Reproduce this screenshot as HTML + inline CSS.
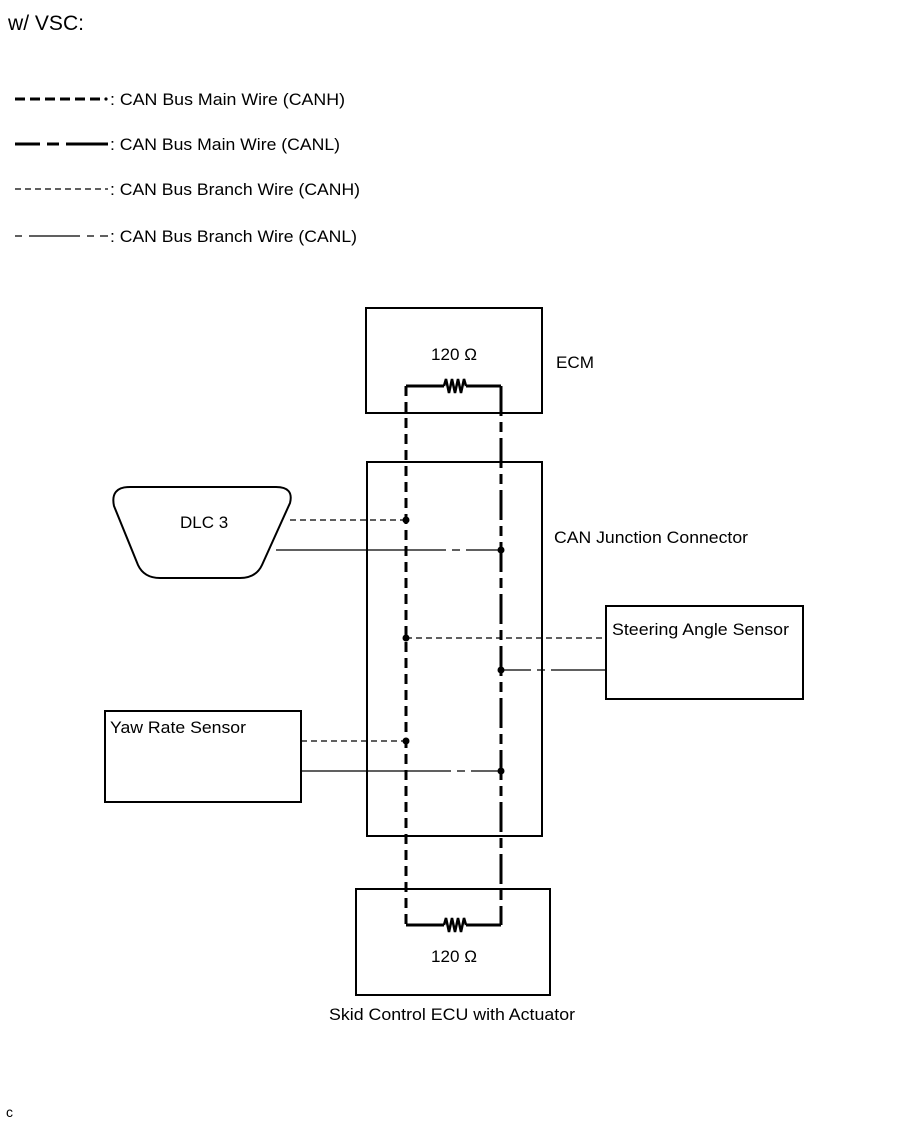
<!DOCTYPE html>
<html><head><style>
html,body{margin:0;padding:0;background:#fff;}
svg{display:block;}
text{font-family:"Liberation Sans",Arial,sans-serif;fill:#000;}
</style></head><body>
<svg width="906" height="1122" viewBox="0 0 906 1122" xmlns="http://www.w3.org/2000/svg">
<text x="8" y="30" font-size="21" textLength="76" lengthAdjust="spacingAndGlyphs">w/ VSC:</text>
<line x1="15" y1="99" x2="102" y2="99" stroke="#000" stroke-width="3" stroke-dasharray="10,5"/>
<circle cx="106" cy="99" r="1.6"/>
<text x="110" y="105" font-size="17" textLength="235" lengthAdjust="spacingAndGlyphs">: CAN Bus Main Wire (CANH)</text>
<path d="M15 144 H40 M47 144 H59 M66 144 H108" stroke="#000" stroke-width="3"/>
<text x="110" y="150" font-size="17" textLength="230" lengthAdjust="spacingAndGlyphs">: CAN Bus Main Wire (CANL)</text>
<line x1="15" y1="189" x2="108" y2="189" stroke="#000" stroke-width="1.3" stroke-dasharray="6,4"/>
<text x="110" y="195" font-size="17" textLength="250" lengthAdjust="spacingAndGlyphs">: CAN Bus Branch Wire (CANH)</text>
<path d="M15 236 H22 M29 236 H80 M87 236 H94 M100 236 H108" stroke="#000" stroke-width="1.3"/>
<text x="110" y="242" font-size="17" textLength="247" lengthAdjust="spacingAndGlyphs">: CAN Bus Branch Wire (CANL)</text>

<g fill="none" stroke="#000" stroke-width="2">
<rect x="366" y="308" width="176" height="105"/>
<rect x="367" y="462" width="175" height="374"/>
<rect x="356" y="889" width="194" height="106"/>
<rect x="606" y="606" width="197" height="93"/>
<rect x="105" y="711" width="196" height="91"/>
<path d="M130 487 H276 Q294 487 290 503 L262 565 Q256 578 240 578 H160 Q144 578 138 565 L114 506 Q110 487 130 487 Z"/>
</g>
<g fill="none" stroke="#000" stroke-width="3">
<path d="M406 386 H444 M466 386 H501"/>
<path d="M444 386 l2 -7 l3 14 l3 -14 l3 14 l3 -14 l3 14 l3 -14 l2 7" stroke-width="2.5"/>
<path d="M406 925 H444 M466 925 H501"/>
<path d="M444 925 l2 -7 l3 14 l3 -14 l3 14 l3 -14 l3 14 l3 -14 l2 7" stroke-width="2.5"/>
<line x1="406" y1="386" x2="406" y2="925" stroke-dasharray="10,6"/>
<path d="M501 386 V925" stroke-dasharray="30,6,10,6"/>
</g>
<g stroke="#000" stroke-width="1.3" fill="none">
<line x1="290" y1="520" x2="406" y2="520" stroke-dasharray="6,4"/>
<line x1="276" y1="550" x2="501" y2="550" stroke-dasharray="170,6,8,6,40"/>
<line x1="406" y1="638" x2="606" y2="638" stroke-dasharray="6,4"/>
<line x1="501" y1="670" x2="606" y2="670" stroke-dasharray="30,6,8,6,60"/>
<line x1="301" y1="771" x2="501" y2="771" stroke-dasharray="150,6,8,6,40"/>
<line x1="301" y1="741" x2="406" y2="741" stroke-dasharray="6,4"/>
</g>
<g fill="#000">
<circle cx="406" cy="520" r="3.5"/><circle cx="501" cy="550" r="3.5"/>
<circle cx="406" cy="638" r="3.5"/><circle cx="501" cy="670" r="3.5"/>
<circle cx="406" cy="741" r="3.5"/><circle cx="501" cy="771" r="3.5"/>
</g>
<g font-size="17">
<text x="431" y="360" textLength="46" lengthAdjust="spacingAndGlyphs">120 Ω</text>
<text x="556" y="368" textLength="38" lengthAdjust="spacingAndGlyphs">ECM</text>
<text x="180" y="528">DLC 3</text>
<text x="554" y="543" textLength="194" lengthAdjust="spacingAndGlyphs">CAN Junction Connector</text>
<text x="612" y="635" textLength="177" lengthAdjust="spacingAndGlyphs">Steering Angle Sensor</text>
<text x="110" y="733" textLength="136" lengthAdjust="spacingAndGlyphs">Yaw Rate Sensor</text>
<text x="431" y="962" textLength="46" lengthAdjust="spacingAndGlyphs">120 Ω</text>
<text x="329" y="1020" textLength="246" lengthAdjust="spacingAndGlyphs">Skid Control ECU with Actuator</text>
<text x="6" y="1117" font-size="14">c</text>
</g>
</svg>
</body></html>
